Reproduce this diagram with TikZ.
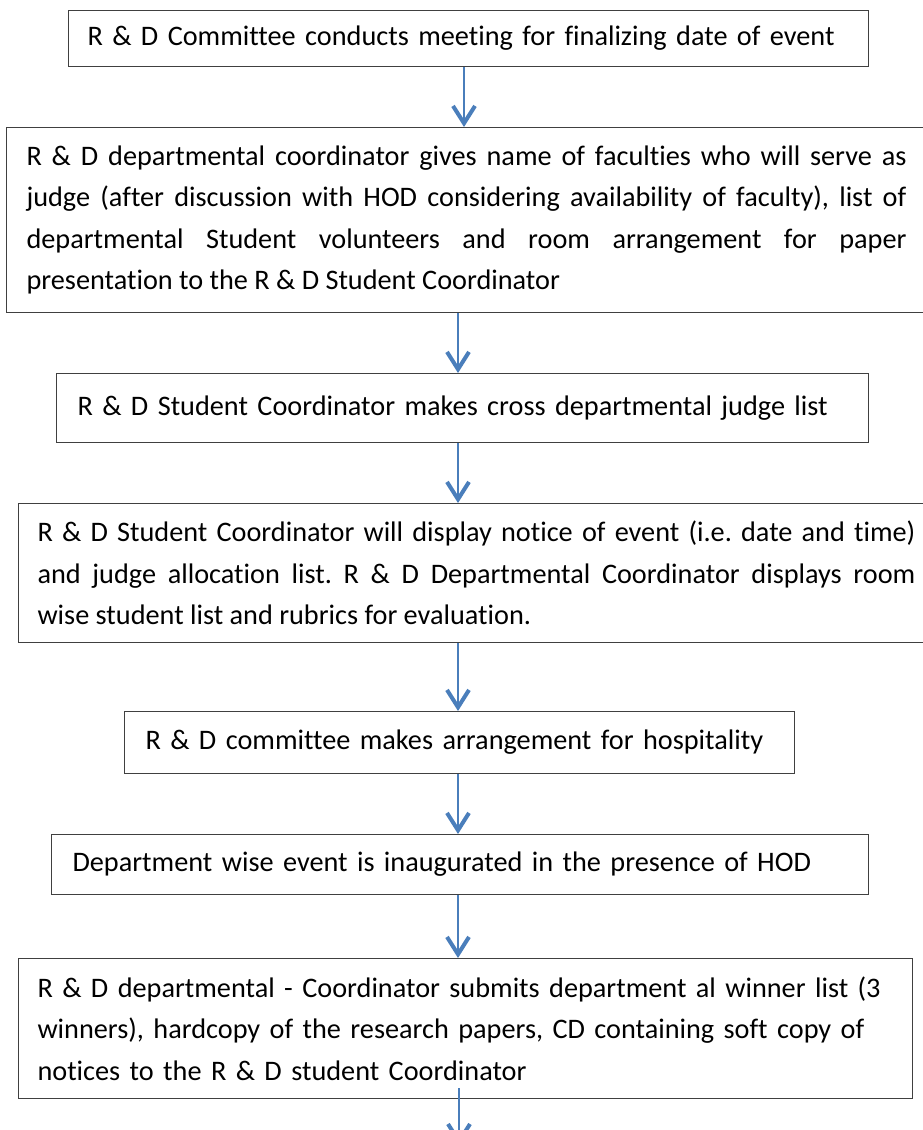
\documentclass[tikz,border=0pt]{standalone}
\usepackage{fontspec}
\setmainfont{Carlito}[Ligatures={NoCommon}]
\usepackage{tikz}
\usetikzlibrary{arrows.meta, calc}

\definecolor{flowBlue}{HTML}{4A7EBB}
\definecolor{boxLine}{HTML}{404040}

\frenchspacing

\begin{document}
\begin{tikzpicture}[
	x=0.75pt, y=-0.75pt,
	every node/.style={font=\fontsize{21.2pt}{31.1pt}\selectfont},
	box/.style={draw=boxLine, line width=0.8pt, anchor=north west, inner ysep=3pt},
	flow/.style={draw=flowBlue, line width=1.3pt, -{Straight Barb[length=13pt,width=16.5pt,line width=3pt]}}
	]
	
	\clip (0, 0) rectangle (923, 1130);
	
	\coordinate (X1) at (464, 0);
	\coordinate (X2) at (458, 0);
	\coordinate (X3) at (459, 0);
	
	% Boxes
	\node[box, text width=571.5pt, inner xsep=14.25pt, minimum height=42pt, align=left] (b1) at (68, 10)
		{R \& D Committee conducts meeting for finalizing date of event};
	\node[box, text width=660pt, inner xsep=15pt, minimum height=138.75pt, align=justify] (b2) at (6, 127)
		{R \& D departmental coordinator gives name of faculties who will serve as\linebreak
		judge (after discussion with HOD considering availability of faculty), list of\linebreak
		departmental Student volunteers and room arrangement for paper\linebreak
		presentation to the R \& D Student Coordinator};
	\node[box, text width=577.5pt, inner xsep=15.75pt, minimum height=51.75pt, align=left] (b3) at (56, 373)
		{R \& D Student Coordinator makes cross departmental judge list};
	\node[box, text width=658.5pt, inner xsep=14.25pt, minimum height=104.25pt, align=justify] (b4) at (18, 503)
		{R \& D Student Coordinator will display notice of event (i.e. date and time)\linebreak
		and judge allocation list. R \& D Departmental Coordinator displays room\linebreak
		wise student list and rubrics for evaluation.};
	\node[box, text width=471pt, inner xsep=15.75pt, minimum height=46.5pt, align=left] (b5) at (124, 711)
		{R \& D committee makes arrangement for hospitality};
	\node[box, text width=581.25pt, inner xsep=15.75pt, minimum height=45pt, align=left] (b6) at (51, 834)
		{Department wise event is inaugurated in the presence of HOD};
	\node[box, text width=642pt, inner xsep=14.25pt, minimum height=105pt, align=left] (b7) at (18, 958)
		{R \& D departmental - Coordinator submits department al winner list (3\\
		winners), hardcopy of the research papers, CD containing soft copy of\\
		notices to the R \& D student Coordinator};
	
	% Arrows
	\draw[flow] (b1.south -| X1) -- (b2.north -| X1);
	\draw[flow] (b2.south -| X2) -- (b3.north -| X2);
	\draw[flow] (b3.south -| X2) -- (b4.north -| X2);
	\draw[flow] (b4.south -| X2) -- (b5.north -| X2);
	\draw[flow] (b5.south -| X2) -- (b6.north -| X2);
	\draw[flow] (b6.south -| X2) -- (b7.north -| X2);
	
	\coordinate (T) at ($(b7.south -| X3) + (0, 46)$);
	\draw[flow] ($(b7.south -| X3) - (0, 11)$) -- (T);
\end{tikzpicture}
\end{document}
